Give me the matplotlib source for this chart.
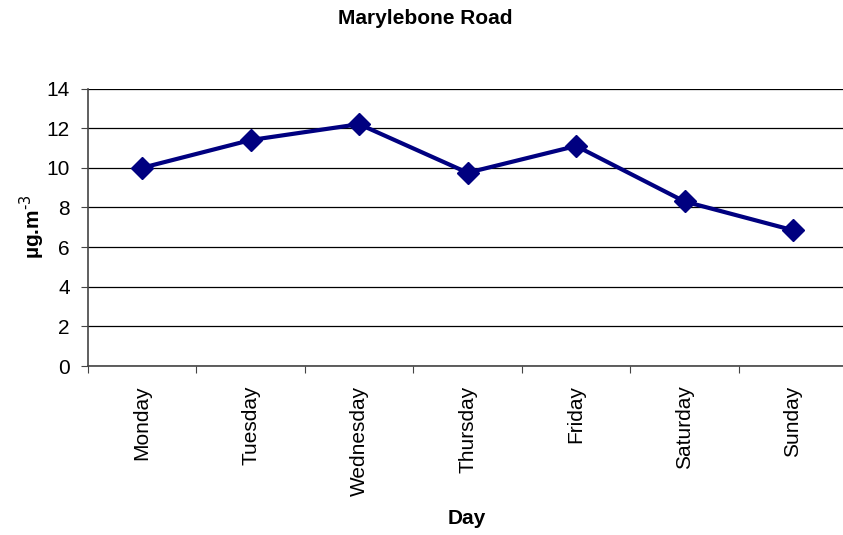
import numpy as np
import matplotlib
matplotlib.use("Agg")
import matplotlib.pyplot as plt

plt.rcParams['font.family'] = ['Liberation Sans', 'DejaVu Sans']

days = ["Monday", "Tuesday", "Wednesday", "Thursday", "Friday", "Saturday", "Sunday"]
conc = [10.0, 11.4, 12.2, 9.75, 11.1, 8.3, 6.85]
yticks = [0, 2, 4, 6, 8, 10, 12, 14]

W, H = 843, 535
fs = 15
fig = plt.figure(figsize=(W / 100, H / 100), dpi=100)
ax = fig.add_axes([88 / W, 1 - 366 / H, 1 - 88 / W + 0.005, (366 - 88.5) / H])

x = np.arange(len(days))
ax.plot(x, conc, color="#000080", lw=3, marker="D", ms=11, zorder=3)

ax.set_ylim(0, 14)
ax.set_xlim(-0.5, 6.48)
ax.set_yticks(yticks)
ax.set_yticklabels([str(v) for v in yticks], fontsize=fs)
ax.yaxis.grid(True, color="black", lw=0.9)
ax.set_axisbelow(True)

# categories sit between the tick marks
ax.set_xticks(np.arange(-0.5, len(days), 1.0))
ax.set_xticklabels([])
ax.set_xticks(x, minor=True)
ax.set_xticklabels(days, minor=True, rotation=90, fontsize=fs, va="top")
ax.tick_params(axis="x", which="minor", length=0, pad=14)
ax.tick_params(axis="x", which="major", length=5, direction="out", color="#444444")
ax.tick_params(axis="y", length=5, direction="out", color="#444444", pad=8)

for s in ["top", "right"]:
    ax.spines[s].set_visible(False)
ax.spines["left"].set_color("#444444")
ax.spines["bottom"].set_color("#444444")
ax.spines["left"].set_linewidth(1.2)
ax.spines["bottom"].set_linewidth(1.2)

fig.text(32 / W, 1 - 227 / H, "µg.m$^{\\text{-3}}$", rotation=90, ha="center", va="center",
         fontsize=fs, fontweight="bold")
fig.text(425 / W, 1 - 18 / H, "Marylebone Road", ha="center", va="center",
         fontsize=fs, fontweight="bold")
fig.text(467 / W, 1 - 518 / H, "Day", ha="center", va="center",
         fontsize=fs, fontweight="bold")

fig.savefig("out.png", dpi=100)
